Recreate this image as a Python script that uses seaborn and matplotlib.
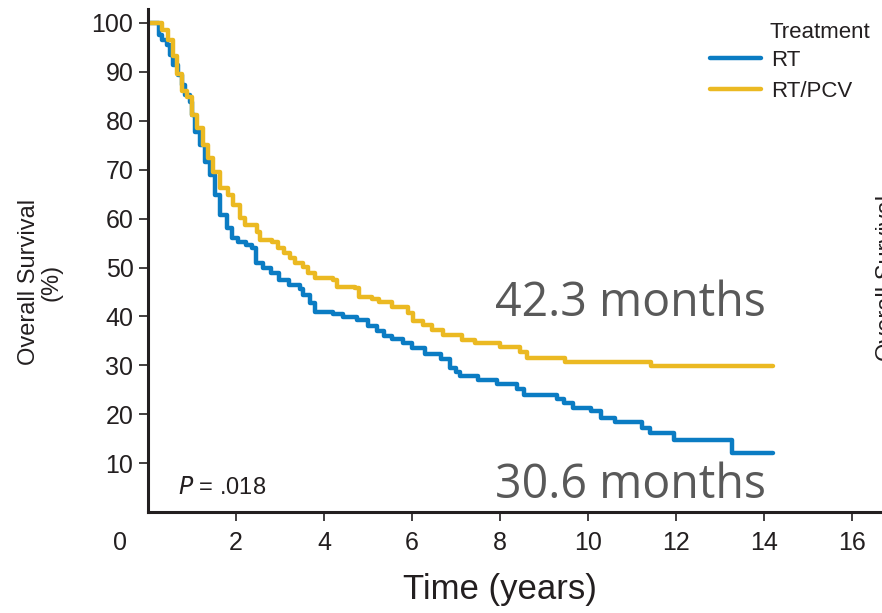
import matplotlib
matplotlib.use("Agg")
import matplotlib.pyplot as plt
import numpy as np
import pandas as pd
import seaborn as sns

# Kaplan-Meier estimates (time in years, overall survival in %)
rt_time = [0.00, 0.25, 0.32, 0.43, 0.50, 0.57, 0.68, 0.77, 0.84, 0.95, 1.00,
           1.07, 1.18, 1.30, 1.41, 1.52, 1.64, 1.80, 1.91, 2.05, 2.23, 2.36,
           2.45, 2.61, 2.80, 2.98, 3.20, 3.45, 3.52, 3.68, 3.80, 4.20, 4.43,
           4.75, 5.00, 5.20, 5.36, 5.55, 5.80, 6.00, 6.30, 6.66, 6.86, 7.00,
           7.10, 7.50, 7.93, 8.39, 8.55, 9.30, 9.45, 9.66, 10.07, 10.30,
           10.61, 11.23, 11.40, 11.95, 13.27, 14.20]
rt_surv = [100.0, 97.5, 96.5, 95.5, 93.4, 91.4, 89.4, 87.3, 85.2, 83.8, 81.2,
           77.7, 75.0, 71.6, 68.9, 64.8, 60.8, 58.1, 56.0, 55.3, 54.6, 53.9,
           51.0, 49.9, 48.9, 47.5, 46.4, 45.6, 44.4, 42.7, 40.9, 40.5, 39.9,
           39.3, 38.0, 37.0, 36.0, 35.4, 34.6, 33.6, 32.4, 31.3, 29.5, 28.6,
           27.8, 27.0, 26.2, 25.2, 24.0, 23.2, 22.4, 21.4, 20.6, 19.3,
           18.4, 17.2, 16.2, 14.8, 12.1, 12.1]

pcv_time = [0.00, 0.32, 0.45, 0.57, 0.66, 0.77, 0.89, 1.00, 1.11, 1.25, 1.36,
            1.48, 1.64, 1.82, 1.93, 2.09, 2.20, 2.48, 2.55, 2.82, 2.95, 3.09,
            3.23, 3.34, 3.52, 3.64, 3.80, 4.20, 4.30, 4.70, 4.80, 5.10, 5.25,
            5.55, 5.91, 6.02, 6.25, 6.45, 6.70, 7.14, 7.43, 8.00, 8.45, 8.61,
            9.48, 11.43, 14.20]
pcv_surv = [100.0, 98.5, 96.4, 93.1, 89.6, 86.1, 84.8, 81.2, 78.5, 75.0, 72.3,
            69.5, 66.2, 64.8, 62.8, 60.1, 58.7, 57.3, 55.6, 55.2, 53.9, 52.9,
            51.9, 50.9, 50.1, 48.9, 47.8, 47.4, 46.0, 45.8, 44.0, 43.6, 43.0,
            42.0, 40.7, 39.1, 38.3, 37.3, 36.2, 35.2, 34.5, 33.8, 32.8, 31.6,
            30.8, 29.8, 29.8]

groups = ["RT", "RT/PCV"]
colors = ["#0b7cc3", "#ebb922"]
x_ticks = [2, 4, 6, 8, 10, 12, 14, 16]
y_ticks = [10, 20, 30, 40, 50, 60, 70, 80, 90, 100]
median_labels = ["42.3 months", "30.6 months"]
p_value = ".018"

df = pd.concat([
    pd.DataFrame({"time": rt_time, "survival": rt_surv, "Treatment": groups[0]}),
    pd.DataFrame({"time": pcv_time, "survival": pcv_surv, "Treatment": groups[1]}),
], ignore_index=True)

sns.set_style("ticks")
plt.rcParams["font.family"] = ["Liberation Sans", "DejaVu Sans"]

ink = "#231f20"
W, H = 882, 613
fig = plt.figure(figsize=(W / 100, H / 100), dpi=100)
ax = fig.add_axes([148 / W, (H - 512.3) / H, (W - 148) / W, (512.3 - 9) / H])

sns.lineplot(data=df, x="time", y="survival", hue="Treatment",
             hue_order=groups, palette=colors, drawstyle="steps-post",
             estimator=None, sort=False, linewidth=3.2, ax=ax)

ax.set_xlim(0, (W - 148) / 44.0)
ax.set_ylim(0, 102.8)
ax.set_xticks(x_ticks)
ax.set_yticks(y_ticks)
ax.set_xlabel("")
ax.set_ylabel("")
for side in ("top", "right"):
    ax.spines[side].set_visible(False)
for side in ("left", "bottom"):
    ax.spines[side].set_linewidth(2.2)
    ax.spines[side].set_color(ink)
ax.tick_params(axis="both", labelsize=18, length=6.5, width=1.2,
               color=ink, labelcolor=ink)
ax.tick_params(axis="y", pad=4)
ax.tick_params(axis="x", pad=7)

# Legend: series handles, title set as separate text
handles, labels = ax.get_legend_handles_labels()
leg = ax.legend(handles, labels, loc="upper left",
                bbox_to_anchor=(710 / W, 1 - 50 / H),
                bbox_transform=fig.transFigure, frameon=False,
                fontsize=16, handlelength=2.3, handletextpad=0.45,
                labelspacing=0.45, borderpad=0, borderaxespad=0)
for t in leg.get_texts():
    t.set_color(ink)
fig.text(770 / W, 1 - 33 / H, "Treatment", fontsize=16, color=ink,
         ha="left", va="center")

# Median survival annotations
ax.text(14.05, 40.0, median_labels[0], family=["Open Sans", "DejaVu Sans"],
        fontsize=33.5, color="#595959", ha="right", va="baseline")
ax.text(14.05, 2.9, median_labels[1], family=["Open Sans", "DejaVu Sans"],
        fontsize=33.5, color="#595959", ha="right", va="baseline")

# Log-rank p-value
ax.text(0.68, 5.0, "$\\mathit{P}$ = " + p_value, fontsize=17, color=ink,
        ha="left", va="center")

# Origin label, axis titles
fig.text(120 / W, 1 - 543 / H, "0", fontsize=18, color=ink,
         ha="center", va="center")
fig.text(500 / W, 1 - 590 / H, "Time (years)", fontsize=25, color=ink,
         ha="center", va="center")
fig.text(40 / W, 1 - 282 / H, "Overall Survival\n(%)", fontsize=17,
         color=ink, rotation=90, ha="center", va="center",
         multialignment="center", linespacing=1.0)
# Neighbouring panel's axis title, running off the right edge
fig.text(887 / W, 1 - 278 / H, "Overall Survival", fontsize=17,
         color=ink, rotation=90, ha="center", va="center")

fig.savefig("out.png", dpi=100)
